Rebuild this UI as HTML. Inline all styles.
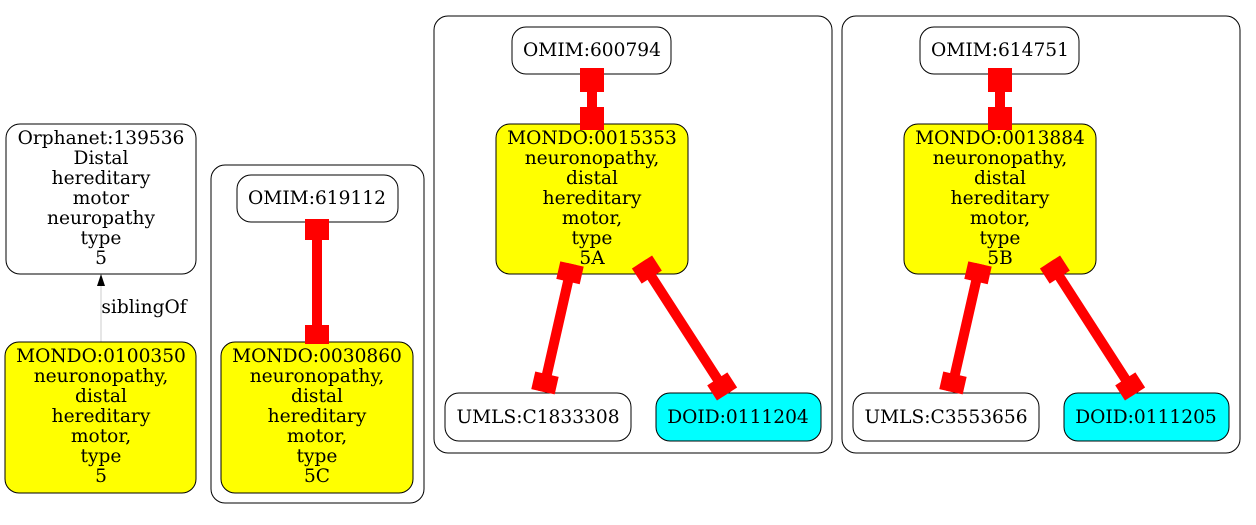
<!DOCTYPE html>
<html><head><meta charset="utf-8"><style>
html,body{margin:0;padding:0;background:#fff;}
svg text{font-family:"DejaVu Serif",serif;font-size:18.6px;text-anchor:middle;fill:#000;}
</style></head><body>
<svg width="1256" height="520" viewBox="0 0 1256 520" xmlns="http://www.w3.org/2000/svg">
<defs>
<g id="e1"><line x1="0" y1="0" x2="131" y2="0" stroke="#f00" stroke-width="10"/><rect x="0" y="-12" width="18" height="24" fill="#f00"/><rect x="113" y="-12" width="18" height="24" fill="#f00"/></g>
<g id="e2"><line x1="0" y1="0" x2="157" y2="0" stroke="#f00" stroke-width="10"/><rect x="0" y="-12" width="18" height="24" fill="#f00"/><rect x="139" y="-12" width="18" height="24" fill="#f00"/></g>
<g id="e3"><line x1="0" y1="0" x2="62" y2="0" stroke="#f00" stroke-width="10"/><rect x="0" y="-12" width="24" height="24" fill="#f00"/><rect x="39" y="-12" width="23" height="24" fill="#f00"/></g>
</defs>
<g fill="none" stroke="#000" stroke-width="1">
<rect x="211" y="165" width="213" height="338" rx="14"/>
<rect x="434" y="16" width="398" height="437" rx="14"/>
<rect x="842" y="16" width="398" height="437" rx="14"/>
</g>
<rect x="6" y="124" width="190" height="150" rx="14" fill="#fff" stroke="#000"/>
<text x="101" y="144">Orphanet:139536</text><text x="101" y="164">Distal</text><text x="101" y="184">hereditary</text><text x="101" y="204">motor</text><text x="101" y="224">neuropathy</text><text x="101" y="244">type</text><text x="101" y="264">5</text>
<line x1="101" y1="342" x2="101" y2="285" stroke="#ccc" stroke-width="1"/>
<polygon points="101,274 97,286 105,286" fill="#000"/>
<text x="144" y="313">siblingOf</text>
<rect x="5" y="342" width="191" height="151" rx="14" fill="#ff0" stroke="#000"/>
<text x="101" y="362">MONDO:0100350</text><text x="101" y="382">neuronopathy,</text><text x="101" y="402">distal</text><text x="101" y="422">hereditary</text><text x="101" y="442">motor,</text><text x="101" y="462">type</text><text x="101" y="482">5</text>
<rect x="237" y="175" width="161" height="47" rx="14" fill="#fff" stroke="#000"/>
<text x="317" y="204">OMIM:619112</text>
<rect x="221" y="342" width="192" height="151" rx="14" fill="#ff0" stroke="#000"/>
<text x="317" y="362">MONDO:0030860</text><text x="317" y="382">neuronopathy,</text><text x="317" y="402">distal</text><text x="317" y="422">hereditary</text><text x="317" y="442">motor,</text><text x="317" y="462">type</text><text x="317" y="482">5C</text>
<line x1="317" y1="222" x2="317" y2="342" stroke="#f00" stroke-width="10"/>
<rect x="305" y="219" width="24" height="21" fill="#f00"/><rect x="305" y="325" width="24" height="19" fill="#f00"/>
<g id="c3">
<rect x="512" y="27" width="159" height="47" rx="14" fill="#fff" stroke="#000"/>
<rect x="496" y="124" width="192" height="150" rx="14" fill="#ff0" stroke="#000"/>
<rect x="445" y="393" width="186" height="48" rx="14" fill="#fff" stroke="#000"/>
<rect x="656" y="393" width="165" height="48" rx="14" fill="#0ff" stroke="#000"/>
<use href="#e3" transform="translate(592,68) rotate(90)"/>
<use href="#e1" transform="translate(572,264) rotate(102.8)"/>
<use href="#e2" transform="translate(642,262) rotate(57.2)"/>
</g>
<text x="592" y="56">OMIM:600794</text>
<text x="592" y="144">MONDO:0015353</text><text x="592" y="164">neuronopathy,</text><text x="592" y="184">distal</text><text x="592" y="204">hereditary</text><text x="592" y="224">motor,</text><text x="592" y="244">type</text><text x="592" y="264">5A</text>
<text x="538" y="423">UMLS:C1833308</text><text x="738" y="423">DOID:0111204</text>
<use href="#c3" transform="translate(408,0)"/>
<text x="1000" y="56">OMIM:614751</text>
<text x="1000" y="144">MONDO:0013884</text><text x="1000" y="164">neuronopathy,</text><text x="1000" y="184">distal</text><text x="1000" y="204">hereditary</text><text x="1000" y="224">motor,</text><text x="1000" y="244">type</text><text x="1000" y="264">5B</text>
<text x="946" y="423">UMLS:C3553656</text><text x="1146" y="423">DOID:0111205</text>
</svg>
</body></html>
